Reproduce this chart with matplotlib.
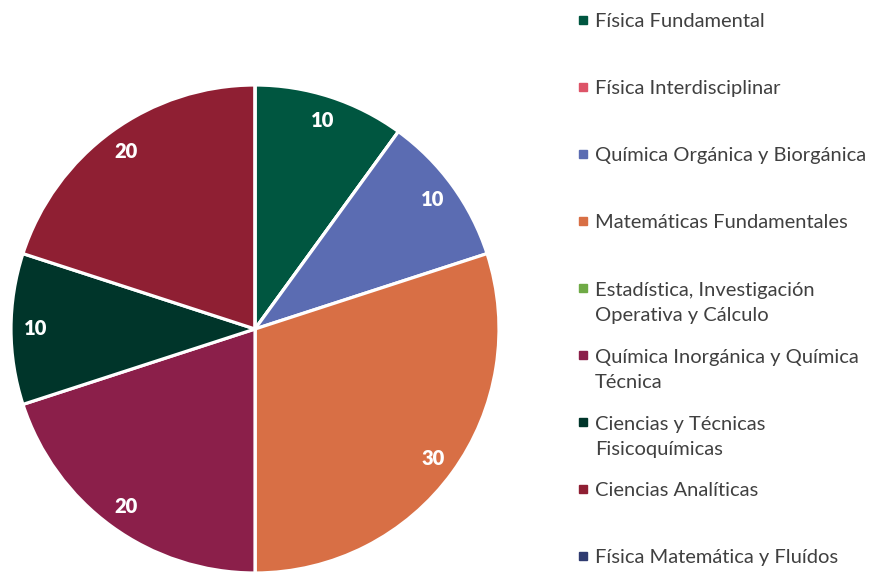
import matplotlib
matplotlib.use("Agg")
import matplotlib.pyplot as plt

categories = [
    "Física Fundamental",
    "Física Interdisciplinar",
    "Química Orgánica y Biorgánica",
    "Matemáticas Fundamentales",
    "Estadística, Investigación\nOperativa y Cálculo",
    "Química Inorgánica y Química\nTécnica",
    "Ciencias y Técnicas\nFisicoquímicas",
    "Ciencias Analíticas",
    "Física Matemática y Fluídos",
]
values = [10, 0, 10, 30, 0, 20, 10, 20, 0]
colors = ["#005640", "#DD5468", "#5B6CB2", "#D86F45", "#6FAA46",
          "#8B1F4A", "#00352A", "#8F1F33", "#2F3B70"]

FONT = ["Lato", "DejaVu Sans"]

W, H = 871, 574
fig = plt.figure(figsize=(W / 100, H / 100), dpi=100)

cx, cy, r = 255, 329, 244
ax = fig.add_axes([(cx - r) / W, (H - cy - r) / H, 2 * r / W, 2 * r / H])

wedges, texts = ax.pie(
    values, colors=colors, startangle=90, counterclock=False,
    wedgeprops=dict(edgecolor="white", linewidth=2.3),
    labels=[str(v) if v > 0 else "" for v in values],
    labeldistance=0.9,
    textprops=dict(color="white", fontsize=14.5, fontweight="heavy",
                   family=FONT, ha="center", va="center"),
)
ax.set_xlim(-1, 1)
ax.set_ylim(-1, 1)
ax.set_aspect("equal")
for w in wedges:
    w.set_clip_on(False)

# legend
y0, dy = 20, 67
for i, (name, col) in enumerate(zip(categories, colors)):
    y = y0 + dy * i
    fig.patches.append(plt.Rectangle((579 / W, (H - y - 4) / H), 8 / W, 8 / H,
                                     transform=fig.transFigure, color=col))
    if "\n" in name:
        fig.text(595 / W, (H - y + 6) / H, name, fontsize=14.5, family=FONT,
                 color="#404040", ha="left", va="top", linespacing=1.55)
    else:
        fig.text(595 / W, (H - y) / H, name, fontsize=14.5, family=FONT,
                 color="#404040", ha="left", va="center_baseline")

fig.savefig("out.png", dpi=100)
